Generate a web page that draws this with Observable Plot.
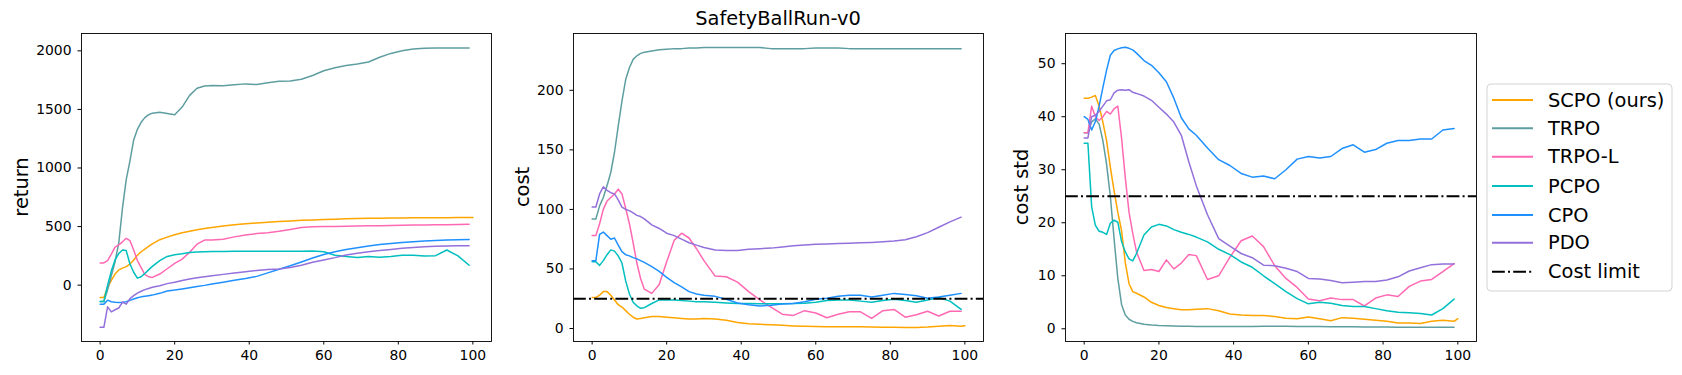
<!DOCTYPE html>
<html><head><meta charset="utf-8">
<script src="https://cdn.jsdelivr.net/npm/d3@7"></script>
<script src="https://cdn.jsdelivr.net/npm/@observablehq/plot@0.6"></script>
<style>
body{margin:0;background:#fff;}
#wrap{position:relative;width:1682px;height:375px;background:#fff;font-family:"DejaVu Sans",sans-serif;color:#000;overflow:hidden;}
.panel{position:absolute;top:0;}
.ylab{position:absolute;font-size:19.4px;white-space:nowrap;transform:translate(-50%,-50%) rotate(-90deg);}
.title{position:absolute;font-size:19.4px;white-space:nowrap;transform:translate(-50%,-50%);}
</style></head><body><div id="wrap"></div>
<script>
// ---------- data ----------
const steps = [0,1,2,3,4,5,6,7,8,9,10,11,12,13,14,16,18,20,22,24,26,28,30,33,36,39,42,45,48,51,54,57,60,63,66,69,72,75,78,81,84,87,90,93,96,99];
const stepsScpo = steps.concat([100]);
const methods = ["SCPO (ours)","TRPO","TRPO-L","PCPO","CPO","PDO"];
const colors = ["#FFA500","#5F9EA0","#FF69B4","#00BFBF","#1E90FF","#9370DB"];
const xTicks = [0,20,40,60,80,100];
const costLimit = 25;
const panelTitle = "SafetyBallRun-v0";
const yLabels = ["return","cost","cost std"];
const returnTicks = [0,500,1000,1500,2000];
const costTicks = [0,50,100,150,200];
const costStdTicks = [0,10,20,30,40,50];

// return
const scpoReturn = [-105,-105,-20,40,95,130,145,158,180,215,255,285,308,330,352,388,410,430,448,460,472,483,493,505,515,524,531,537,543,548,553,557,560,563,566,568,570,572,573,574,575,575,576,576,577,577,577];
const trpoReturn = [-140,-140,-40,80,200,360,660,900,1060,1240,1330,1390,1430,1455,1468,1475,1465,1455,1520,1620,1680,1700,1705,1703,1710,1718,1712,1728,1740,1742,1758,1790,1830,1855,1875,1888,1905,1945,1978,2000,2015,2022,2024,2024,2024,2024];
const trpolReturn = [190,190,210,265,325,344,370,400,380,300,210,150,90,72,66,95,140,185,222,280,350,385,385,392,412,428,440,448,460,475,492,498,500,500,502,505,506,508,510,512,513,514,515,516,518,520];
const pcpoReturn = [-140,-140,0,120,215,270,300,295,180,110,60,72,100,130,160,210,245,260,268,278,282,285,287,288,290,290,290,290,290,290,290,292,285,255,245,235,245,238,245,255,255,248,252,300,250,170];
const cpoReturn = [-162,-162,-128,-142,-146,-148,-146,-142,-130,-118,-108,-100,-95,-90,-85,-70,-50,-42,-32,-22,-12,-2,10,25,42,57,75,105,135,165,198,232,262,285,305,320,334,346,356,364,371,377,381,385,388,390];
const pdoReturn = [-360,-360,-185,-228,-210,-195,-145,-162,-115,-90,-68,-52,-38,-28,-18,-5,13,25,40,52,63,72,80,92,104,115,125,133,138,150,170,195,215,235,258,272,285,296,305,315,322,328,332,335,336,336];

// cost
const scpoCost = [26,26,28,31,31,28,24,20,18,15,12,9.5,8,8.5,9,10,10,9.5,9,8.5,8,8,8.5,8,7,5,4,3.5,3.2,2.8,2.2,1.8,1.6,1.5,1.4,1.5,1.4,1.2,1.0,1.0,0.9,0.8,1.2,2.0,2.6,2.0,2.3];
const trpoCost = [92,92,103,110,120,131,148,170,191,209,219,226,229,231,232,233,234,234.5,235,235,235.5,235.5,236,236,236,236,236,236,235,235,235,235,235.5,235.5,235.5,235,235,235,235,235,235,235,235,235,235,235];
const trpolCost = [78,78,88,100,107,110,113,117,113,101,88,72,55,42,33,29.5,37,56,74,80,76,67,57,44,43.5,39,31,24,18,12,11,15,13,9,12,14,14,8.5,15,16,9.5,11.5,14.5,10.5,14.5,14.5];
const pcpoCost = [56,56,53,57,62,66,65,61,55,40,29,22,19,17,17.5,21,24,24,24,23.5,23,22.5,22.5,22,21.5,21,21,20.8,20.7,20.8,21,21.2,22,23.5,24,24,23,22,23.5,24.5,23.5,22,24,26,23,16];
const cpoCost = [57,57,79,81,78,75,76,70,64.5,62,61,59.5,58.5,57,55.5,52,48,43,38.5,35,31,29,28,27,24.5,21.5,20,19,19.5,20.5,21,22.5,24.5,25.5,27,28,28,26.5,28,29.5,28.5,27.5,25.5,26.5,28,29.5];
const pdoCost = [102,102,113,119,116,114,113,108,102,100,99,97,95,94,92,87,84,80,78,75,72,70,68,66,65.5,65.5,66.5,67,67.5,68.5,69.5,70.2,70.8,71,71.3,71.6,72,72.3,72.8,73.4,74.5,77,80.5,85,89.5,93.5];

// cost std
const scpoStd = [43.5,43.5,43.7,44,42,39,35.5,30.5,26,22,18.5,12.5,8.5,7,6.7,6,5,4.4,4.0,3.8,3.6,3.6,3.7,3.8,3.4,2.8,2.6,2.5,2.5,2.3,2.0,1.9,2.2,1.9,1.5,2.1,2.0,1.8,1.6,1.4,1.1,1.1,1.0,1.4,1.6,1.4,1.9];
const trpoStd = [37,37,39,39.6,38.6,35.5,31,25,17,9.5,4.6,2.6,1.8,1.4,1.15,0.85,0.7,0.6,0.55,0.52,0.5,0.47,0.45,0.44,0.43,0.43,0.44,0.45,0.46,0.47,0.46,0.45,0.43,0.41,0.39,0.37,0.36,0.35,0.33,0.32,0.31,0.3,0.3,0.3,0.3,0.3];
const trpolStd = [37,37,42,40,39.3,40,41,40.5,41.5,42,36,28.5,22,18,14.5,11,11.2,10.8,13,11.3,12.4,14,13.8,9.3,10,13.5,16.6,17.5,15.5,11.9,9.5,7.8,5.6,5.3,5.8,5.5,5.5,4.3,5.8,6.4,6.1,8,9,9.3,10.8,12.3];
const pcpoStd = [35,35,23,19.5,18.4,18.2,17.8,19.9,20.5,20.1,16.5,14.5,13.2,12.8,14.2,17.7,19.2,19.7,19.4,18.7,18.2,17.8,17.3,16.4,15,14,12.6,11.6,10,8.5,7,5.7,4.7,5.0,4.8,4.4,4.2,4.2,3.8,3.4,3.1,3.0,2.9,2.6,3.8,5.6];
const cpoStd = [40,39.5,37.5,39.1,42,45.5,48.8,51.6,52.5,52.8,53,53.1,52.9,52.6,52,50.6,49.7,48.3,46.6,43.5,39.8,37.7,36.5,34.1,31.9,30.8,29.3,28.6,28.8,28.3,30,32,32.5,32.2,32.5,34,34.7,33.3,33.8,35,35.5,35.5,35.8,35.8,37.5,37.8];
const pdoStd = [36,36,40,40.3,41,42,43,43.2,44.5,45,45.1,45,45.1,44.6,44.4,43.9,43.1,41.8,40.5,39,36.5,31.5,27,21.5,17,15.6,14.2,13.4,12,11.9,11.4,10.8,9.5,9.4,9.1,8.7,8.8,8.9,8.9,9.2,9.8,10.9,11.5,12.1,12.2,12.2];

// ---------- drawing ----------
const wrap = document.getElementById("wrap");
function toRows(vals, xs){ return vals.map((v,i)=>({step: xs[i], value: v})); }

function makePanel(cfg){
  const marks = [];
  cfg.series.forEach((vals, k) => {
    const xs = vals.length === stepsScpo.length ? stepsScpo : steps;
    marks.push(Plot.line(toRows(vals, xs), {x:"step", y:"value", stroke: colors[k], strokeWidth: 1.5}));
  });
  if (cfg.limit) marks.push(Plot.ruleY([costLimit], {stroke:"black", strokeWidth:2, strokeDasharray:"12.8,3.2,2,3.2"}));
  marks.push(Plot.axisX({ticks: xTicks, tickSize: 3.5, tickPadding: 5.5, tickFormat: d => String(d), label: null}));
  marks.push(Plot.axisY({ticks: cfg.yTicks, tickSize: 3.5, tickPadding: 6.5, tickFormat: d => String(d), label: null}));
  marks.push(Plot.frame({stroke:"black", strokeWidth: 0.9}));
  const svg = Plot.plot({
    width: cfg.width, height: 375,
    marginLeft: 81, marginRight: 9, marginTop: 33, marginBottom: 34,
    x: {domain: [-5, 105]},
    y: {domain: cfg.yDomain},
    style: {fontSize: "13.9px", fontFamily: "DejaVu Sans", background: "transparent", color: "black", overflow: "visible"},
    marks
  });
  svg.classList.add("panel");
  svg.style.left = cfg.left + "px";
  svg.style.maxWidth = "none";
  wrap.appendChild(svg);
}

makePanel({left: 0, width: 500, yDomain: [-481, 2148], yTicks: returnTicks,
  series: [scpoReturn, trpoReturn, trpolReturn, pcpoReturn, cpoReturn, pdoReturn]});
makePanel({left: 492, width: 500, yDomain: [-10.9, 247.7], yTicks: costTicks, limit: true,
  series: [scpoCost, trpoCost, trpolCost, pcpoCost, cpoCost, pdoCost]});
makePanel({left: 984, width: 501, yDomain: [-2.4, 55.7], yTicks: costStdTicks, limit: true,
  series: [scpoStd, trpoStd, trpolStd, pcpoStd, cpoStd, pdoStd]});

// labels
[[20.7, yLabels[0]], [521.7, yLabels[1]], [1020.7, yLabels[2]]].forEach(([x, t]) => {
  const d = document.createElement("div");
  d.className = "ylab"; d.textContent = t;
  d.style.left = x + "px"; d.style.top = "187px";
  wrap.appendChild(d);
});
const title = document.createElement("div");
title.className = "title"; title.textContent = panelTitle;
title.style.left = "778px"; title.style.top = "18px";
wrap.appendChild(title);

// legend
const legW = 185, legH = 207;
const leg = d3.create("svg").attr("width", legW + 2).attr("height", legH + 2)
  .style("position","absolute").style("left","1486px").style("top","83px").style("overflow","visible");
leg.append("rect").attr("x",1).attr("y",1).attr("width",legW).attr("height",legH).attr("rx",4)
  .attr("fill","white").attr("fill-opacity",0.8).attr("stroke","#d3d3d3").attr("stroke-width",1);
const entries = methods.map((m,i)=>({label:m, color:colors[i], dash:null})).concat([{label:"Cost limit", color:"black", dash:"12.8,3.2,2,3.2"}]);
const rowY = [17, 45.3, 73.7, 103, 132, 159.7, 188.7];
entries.forEach((e,i)=>{
  const g = leg.append("g").attr("transform", `translate(0,${rowY[i]})`);
  g.append("line").attr("x1",6).attr("x2",47).attr("y1",0).attr("y2",0)
    .attr("stroke",e.color).attr("stroke-width",2).attr("stroke-dasharray", e.dash);
  g.append("text").attr("x",62).attr("y",0).attr("dy","0.35em")
    .attr("font-family","DejaVu Sans").attr("font-size",19.4).attr("fill","black").text(e.label);
});
wrap.appendChild(leg.node());
</script></body></html>
